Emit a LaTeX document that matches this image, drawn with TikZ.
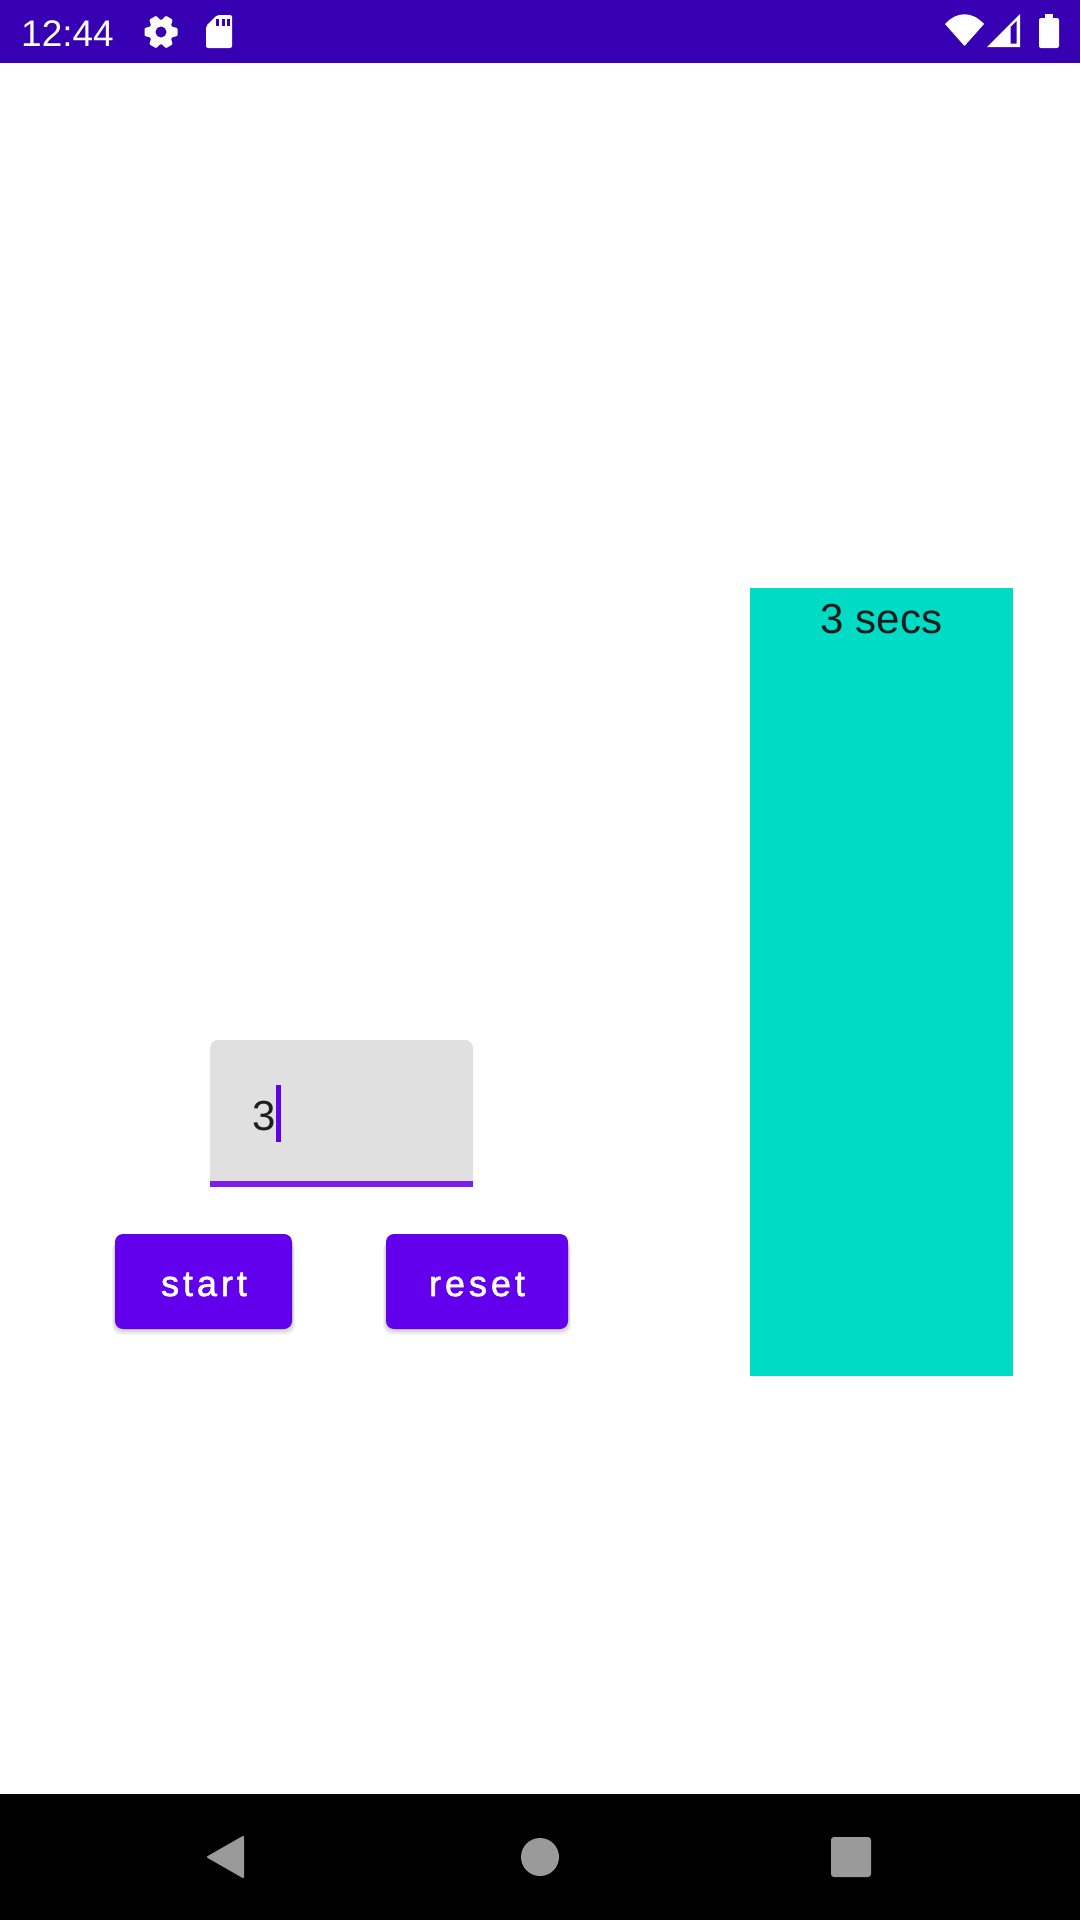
\documentclass[tikz,border=0pt]{standalone}
\usepackage{fontspec}
\usetikzlibrary{positioning}
\setmainfont{Liberation Sans}
\newfontfamily\btnfont[LetterSpace=11,FakeBold=1.6]{Liberation Sans}
\definecolor{barcol}{HTML}{3700B3}
\definecolor{primcol}{HTML}{6200EE}
\definecolor{linecol}{HTML}{7A1FEE}
\definecolor{tealcol}{HTML}{00DBC6}
\definecolor{fieldcol}{HTML}{E0E0E0}
\definecolor{navcol}{HTML}{9A9A9A}
\definecolor{inkcol}{HTML}{1E1E1E}
\tikzset{
  box/.style={inner sep=0,outer sep=0,anchor=north west},
  btn/.style={box,fill=primcol,rounded corners=8pt},
  btnlabel/.style={inner sep=0,text=white,anchor=base,font=\btnfont\fontsize{36}{36}\selectfont},
  icon/.style={fill=white,draw=none},
  navicon/.style={fill=navcol,draw=navcol,line width=2pt,line join=round},
}
\begin{document}
\begin{tikzpicture}[x=1pt,y=-1pt]
\useasboundingbox (0,0) rectangle (1080,1920);
\fill[white] (0,0) rectangle (1080,1920);
% status bar
\node[box,fill=barcol,minimum width=1080pt,minimum height=63pt] (statusbar) at (0,0) {};
\node[anchor=base west,inner sep=0,text=white,font=\fontsize{37}{37}\selectfont] (clock) at (21,46) {12:44};
% gear
\begin{scope}[shift={(161,32)}]
\foreach \a in {30,90,...,330}
  \fill[icon,rotate=\a,rounded corners=1pt] (-5.5,-10) -- (-4,-16.5) -- (4,-16.5) -- (5.5,-10) -- cycle;
\fill[icon] (0,0) circle (12.5pt);
\fill[barcol] (0,0) circle (5.5pt);
\end{scope}
% sd card
\fill[icon,rounded corners=2pt] (206,26) -- (217,15) -- (232,15) -- (232,48) -- (206,48) -- cycle;
\foreach \x in {216,221.5,227}
  \fill[barcol] (\x,18.5) rectangle +(3,7);
% wifi, signal, battery
\fill[icon] (964.5,46) -- (945,24) .. controls (957,11) and (972,11) .. (984,24) -- cycle;
\fill[icon] (987,47) -- (1020,14) -- (1020,47) -- cycle;
\fill[barcol] (1010.5,27) -- (1016.5,21) -- (1016.5,43.5) -- (1010.5,43.5) -- cycle;
\fill[icon,rounded corners=2pt] (1039,18) rectangle (1059,48);
\fill[icon] (1045,14) rectangle (1053,19);
% teal panel
\node[box,fill=tealcol,minimum width=263pt,minimum height=788pt] (panel) at (750,588) {};
\node[below=16pt of panel.north,inner sep=0,text=inkcol!90!black,font=\fontsize{42}{42}\selectfont] (secs) {3 secs};
% text field
\fill[fieldcol] (210,1181) [rounded corners=8pt] -- (210,1040) -- (473,1040) [sharp corners] -- (473,1181) -- cycle;
\node[box,fill=linecol,minimum width=263pt,minimum height=6pt] (underline) at (210,1181) {};
\node[anchor=base west,inner sep=0,text=inkcol,font=\fontsize{42}{42}\selectfont] (value) at (252,1130) {3};
\node[box,fill=primcol,minimum width=5pt,minimum height=57pt] (caret) at (276,1085) {};
% buttons
\foreach \k in {1,...,6}
{
  \fill[black,opacity=.03,rounded corners=9pt] (115-.5*\k,1240) rectangle (292+.5*\k,1329+\k);
  \fill[black,opacity=.03,rounded corners=9pt] (386-.5*\k,1240) rectangle (568+.5*\k,1329+\k);
}
\node[btn,minimum width=177pt,minimum height=95pt] (start) at (115,1234) {};
\node[btn,minimum width=182pt,minimum height=95pt] (reset) at (386,1234) {};
\node[btnlabel] (startlabel) at (204,1296) {start};
\node[btnlabel] (resetlabel) at (477,1296) {reset};
% nav bar
\node[box,fill=black,minimum width=1080pt,minimum height=126pt] (navbar) at (0,1794) {};
\fill[navicon] (208,1857) -- (243,1837) -- (243,1877) -- cycle;
\fill[navcol] (540,1857) circle (19pt);
\fill[navcol,rounded corners=3pt] (831,1837) rectangle (871,1877);
\end{tikzpicture}
\end{document}
